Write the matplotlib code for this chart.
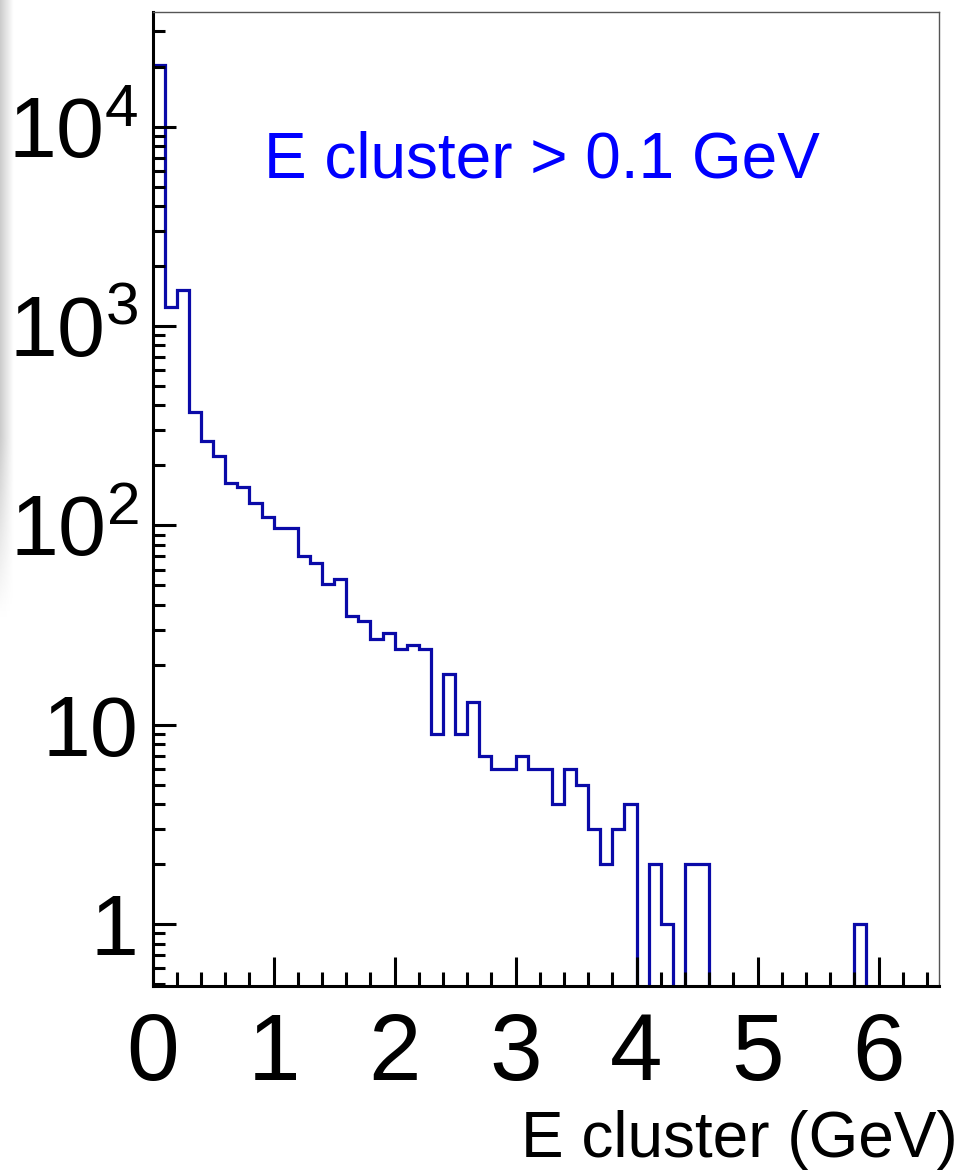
import numpy as np
import matplotlib
matplotlib.use('Agg')
import matplotlib.pyplot as plt
from matplotlib.ticker import FixedLocator, FixedFormatter, LogLocator, MultipleLocator

plt.rcParams['font.family'] = ['Liberation Sans', 'DejaVu Sans']
plt.rcParams['mathtext.fontset'] = 'custom'
plt.rcParams['mathtext.rm'] = 'Liberation Sans'
plt.rcParams['mathtext.it'] = 'Liberation Sans'

# histogram data, 0.1 GeV bins from 0 to 6.5
bin_width = 0.1
n_bins = 65
counts = [20300, 1250, 1510, 372, 265, 223, 163, 156, 129, 110,
          97, 97, 70, 65, 51, 54, 35, 33, 27, 29,
          24, 25, 24, 9, 18, 9, 13, 7, 6, 6,
          7, 6, 6, 4, 6, 5, 3, 2, 3, 4,
          0, 2, 1, 0, 2, 2, 0, 0, 0, 0,
          0, 0, 0, 0, 0, 0, 0, 0, 1, 0,
          0, 0, 0, 0, 0]
x_ticks = [0, 1, 2, 3, 4, 5, 6]
y_ticks = [1, 10, 100, 1000, 10000]
y_tick_labels = ['1', '10', r'$10^{2}$', r'$10^{3}$', r'$10^{4}$']
annot = 'E cluster > 0.1 GeV'
x_title = 'E cluster (GeV)'

edges = np.arange(n_bins + 1) * bin_width
vals = np.array(counts, dtype=float)
vals = np.where(vals > 0, vals, 1e-3)  # empty bins drop below the frame

fig = plt.figure(figsize=(9.64, 11.70), dpi=100)

# faint grey strip on the left edge (slide background)
bg = fig.add_axes([0, 1 - 620 / 1170, 14 / 964, 620 / 1170], zorder=-1)
gx = np.linspace(0.80, 1.0, 20)
gy = np.concatenate([np.zeros(70), np.linspace(0, 1, 30)])
grad = np.clip(gx[None, :] + (1 - gx[None, :]) * gy[:, None], 0, 1)
bg.imshow(grad, cmap='gray', vmin=0, vmax=1, aspect='auto', interpolation='bilinear')
bg.axis('off')

ax = fig.add_axes([152.7 / 964, (1170 - 986) / 1170, (939 - 152.7) / 964, (986 - 11.7) / 1170])
ax.stairs(vals, edges, baseline=None, color='#0a0aa8', linewidth=2.3)

ax.set_yscale('log')
ax.set_xlim(0, 6.5)
ax.set_ylim(0.49, 37700)

ax.xaxis.set_major_locator(FixedLocator(x_ticks))
ax.xaxis.set_minor_locator(MultipleLocator(0.2))
ax.yaxis.set_major_locator(FixedLocator(y_ticks))
ax.yaxis.set_major_formatter(FixedFormatter(y_tick_labels))
ax.yaxis.set_minor_locator(LogLocator(base=10, subs=np.arange(2, 10) * 1.0, numticks=20))
ax.yaxis.set_minor_formatter(FixedFormatter([]))

ax.tick_params(axis='x', which='major', direction='in', length=21, width=2.2, pad=18)
ax.tick_params(axis='x', which='minor', direction='in', length=10, width=2.2)
ax.tick_params(axis='y', which='major', direction='in', length=16.5, width=2.2, pad=10)
ax.tick_params(axis='y', which='minor', direction='in', length=8.6, width=2.2)
ax.tick_params(top=False, right=False, which='both')

for lab in ax.get_xticklabels():
    lab.set_fontsize(68)
for lab in ax.get_yticklabels():
    lab.set_fontsize(62)

for s in ['left', 'bottom']:
    ax.spines[s].set_linewidth(2.2)
    ax.spines[s].set_color('black')
for s in ['top', 'right']:
    ax.spines[s].set_linewidth(1.0)
    ax.spines[s].set_color('#555555')

fig.text(264 / 964, 1 - 178 / 1170, annot, color='blue', fontsize=46,
         ha='left', va='baseline')
fig.text(958 / 964, 1 - 1157 / 1170, x_title, fontsize=46,
         ha='right', va='baseline')

fig.savefig('out.png', dpi=100)
